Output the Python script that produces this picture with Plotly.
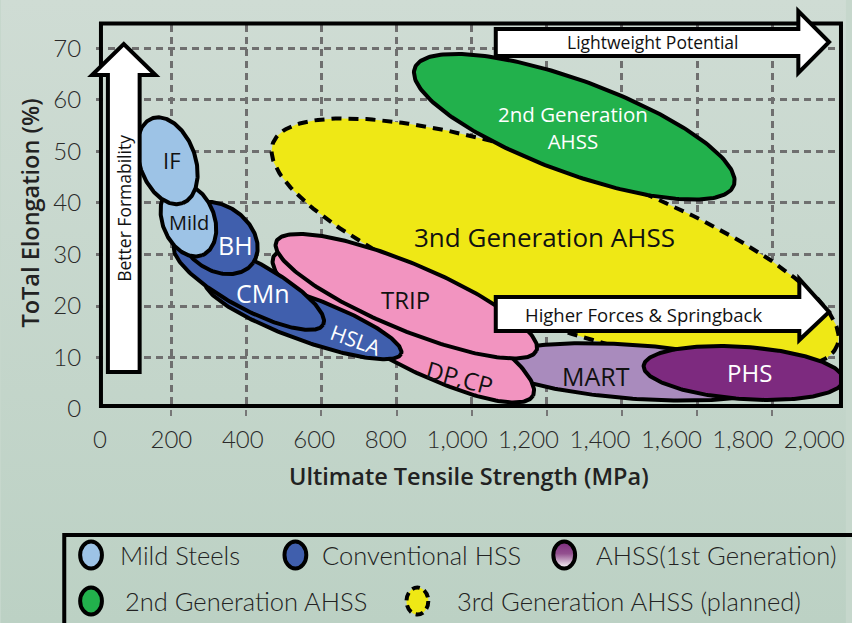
import base64
import numpy as np
import plotly.graph_objects as go

FIG_W, FIG_H = 852, 623
MARGIN = dict(l=96, r=7, t=25, b=214)
PLOT_W = FIG_W - MARGIN["l"] - MARGIN["r"]
PLOT_H = FIG_H - MARGIN["t"] - MARGIN["b"]

# Axis ranges: ultimate tensile strength (MPa) and total elongation (%)
UTS_RANGE = [0, 1977.6]
ELONG_RANGE = [0, 74.56]
UTS_LABEL_RANGE = [-11.1, 2069.4]

uts_grid = [200, 400, 600, 800, 1000, 1200, 1400, 1600, 1800]
uts_ticks = [0, 200, 400, 600, 800, 1000, 1200, 1400, 1600, 1800, 2000]
elong_grid = [10, 20, 30, 40, 50, 60, 70]
elong_ticks = [0, 10, 20, 30, 40, 50, 60, 70]

# Steel families, painted back to front
grade = ["3rd Gen AHSS", "2nd Gen AHSS", "MART", "PHS", "DP,CP", "TRIP",
         "HSLA", "CMn", "BH", "Mild", "IF"]
uts_center = [1222, 1273, 1436, 1724, 818, 826, 552, 407, 325, 246, 190]
elong_center = [32.0, 54.8, 7.2, 7.0, 16.1, 21.9, 17.7, 24.1, 33.2, 36.7, 48.2]
# semi-axes of each envelope, measured on the MPa scale
semi_major = [797, 452, 383, 267, 391, 375, 277, 224, 114, 100, 119]
semi_minor = [211, 122, 71, 69, 95, 87, 58, 63, 85, 69, 74]
tilt_deg = [19.5, 20, 4, 4, 28, 22.5, 20, 28, 35, 68, 70]

fill_color = ["#efe815", "#22b14c", "#a98bbd", "#7d2a7f", "#f294c0", "#f294c0",
              "#405fad", "#405fad", "#405fad", "#9dc3e6", "#9dc3e6"]
outline_dash = ["10px,7px"] + ["solid"] * 10

# in-envelope labels
label_text = ["3nd Generation AHSS", "2nd Generation<br>AHSS", "MART", "PHS", "DP,CP",
              "TRIP", "HSLA", "CMn", "BH", "Mild", "IF"]
label_uts = [1193, 1270, 1331, 1740, 970, 824, 692, 444, 372, 248, 201]
label_elong = [33.4, 54.6, 6.4, 7.0, 6.2, 21.2, 13.4, 22.5, 31.8, 36.3, 48.3]
label_color = ["#111", "white", "#111", "white", "#111", "#111", "white", "white",
               "white", "#111", "#111"]
label_size = [26, 20.5, 25, 24, 24, 24, 21, 25, 25, 20, 22]
label_angle = [0, 0, 0, 0, 15, 0, 20, 0, 0, 0, 0]

FONT = "Open Sans"
THIN = "Lato"

# MPa per percent elongation on screen, so tilted envelopes keep their shape
PX_PER_MPA = PLOT_W / (UTS_RANGE[1] - UTS_RANGE[0])
PX_PER_PCT = PLOT_H / (ELONG_RANGE[1] - ELONG_RANGE[0])
MPA_PER_PCT = PX_PER_PCT / PX_PER_MPA


def envelope(cu, ce, a, b, tilt, n=240):
    t = np.linspace(0, 2 * np.pi, n)
    th = np.radians(tilt)
    du = a * np.cos(t) * np.cos(th) - b * np.sin(t) * np.sin(th)
    dv = a * np.cos(t) * np.sin(th) + b * np.sin(t) * np.cos(th)
    return cu + du, ce - dv / MPA_PER_PCT


def px(x):
    return (x - MARGIN["l"]) / PLOT_W


def py(y):
    return (FIG_H - MARGIN["b"] - y) / PLOT_H


def svg_uri(svg):
    return "data:image/svg+xml;base64," + base64.b64encode(svg.encode()).decode()


def note(x, y, text, font, angle=0, xanchor="center"):
    fig.add_annotation(x=px(x), y=py(y), xref="paper", yref="paper", text=text,
                       showarrow=False, textangle=angle, xanchor=xanchor,
                       yanchor="middle", font=font)


fig = go.Figure()

for i in range(len(grade)):
    xs, ys = envelope(uts_center[i], elong_center[i], semi_major[i], semi_minor[i], tilt_deg[i])
    fig.add_trace(go.Scatter(
        x=xs, y=ys, mode="lines", fill="toself", fillcolor=fill_color[i],
        line=dict(color="black", width=4, dash=outline_dash[i]),
        name=grade[i], hoverinfo="skip", showlegend=False))

# carrier for the labelled tick axes
fig.add_trace(go.Scatter(x=[None], y=[None], xaxis="x2", yaxis="y2",
                         showlegend=False, hoverinfo="skip"))

for i in range(len(grade)):
    fig.add_annotation(
        x=label_uts[i], y=label_elong[i], xref="x", yref="y", text=label_text[i],
        showarrow=False, textangle=label_angle[i], xanchor="center", yanchor="middle",
        font=dict(family=FONT, size=label_size[i], color=label_color[i], weight=500))

grid = dict(showgrid=True, gridcolor="#6f6f6f", gridwidth=2.5, griddash="7px,5px",
            zeroline=False, showline=False, fixedrange=True)
tickfont = dict(family=THIN, size=24, color="#2a2a2a", weight=300)

fig.update_layout(
    width=FIG_W, height=FIG_H, margin=MARGIN,
    paper_bgcolor="#c6d7cc", plot_bgcolor="rgba(0,0,0,0)",
    xaxis=dict(range=UTS_RANGE, tickvals=uts_grid, showticklabels=False,
               ticks="outside", ticklen=6, tickwidth=2, tickcolor="#777", **grid),
    yaxis=dict(range=ELONG_RANGE, tickvals=elong_grid, showticklabels=False, ticks="", **grid),
    xaxis2=dict(overlaying="x", anchor="y", side="bottom", range=UTS_LABEL_RANGE,
                tickvals=uts_ticks, tickformat=",", showgrid=False, zeroline=False,
                ticks="outside", ticklen=9, tickcolor="rgba(0,0,0,0)",
                tickfont=tickfont, fixedrange=True),
    yaxis2=dict(overlaying="y", anchor="x", side="left", range=ELONG_RANGE,
                tickvals=elong_ticks, showgrid=False, zeroline=False,
                ticks="outside", ticklen=9, tickcolor="rgba(0,0,0,0)",
                tickfont=tickfont, fixedrange=True),
)

# background wash
bg = ('<svg xmlns="http://www.w3.org/2000/svg" width="852" height="623">'
      '<defs><linearGradient id="g" x1="0" y1="0" x2="0" y2="1">'
      '<stop offset="0" stop-color="#cfdcd4"/><stop offset="1" stop-color="#bcd1c4"/>'
      '</linearGradient></defs><rect width="852" height="623" fill="url(#g)"/></svg>')
images = [dict(source=svg_uri(bg), xref="paper", yref="paper", x=px(0), y=py(0),
               sizex=FIG_W / PLOT_W, sizey=FIG_H / PLOT_H, xanchor="left", yanchor="top",
               sizing="stretch", layer="below")]

# axis titles
title_font = dict(family=FONT, size=23.5, color="#222", weight=600)
note(472, 476, "Ultimate Tensile Strength (MPa)", title_font)
note(29, 213, "ToTal Elongation (%)", title_font, angle=-90)

shapes = []
# plot frame
shapes.append(dict(type="rect", xref="paper", yref="paper", x0=px(101), x1=px(847),
                   y0=py(406), y1=py(23.5), line=dict(color="black", width=4),
                   fillcolor="rgba(0,0,0,0)", layer="above"))


def arrow_path(points):
    return "M " + " L ".join(f"{px(x):.5f},{py(y):.5f}" for x, y in points) + " Z"


arrows = [
    [(108, 372), (108, 75), (92, 75), (124, 44), (156, 75), (140, 75), (140, 372)],
    [(499, 29), (804, 29), (804, 11), (835, 42), (804, 73), (804, 56), (499, 56)],
    [(499, 297), (805, 297), (805, 279), (835, 312), (805, 340), (805, 331), (499, 331)],
]
for pts in arrows:
    shapes.append(dict(type="path", xref="paper", yref="paper", path=arrow_path(pts),
                       fillcolor="white", line=dict(color="black", width=4), layer="above"))

arrow_font = dict(family=FONT, size=17.5, color="#111", weight=500)
note(124, 208, "Better Formability", arrow_font, angle=-90)
note(658, 42, "Lightweight Potential", arrow_font)
note(648, 314, "Higher Forces &amp; Springback", dict(arrow_font, size=18.5))

# legend panel
shapes.append(dict(type="rect", xref="paper", yref="paper", x0=px(64), x1=px(920),
                   y0=py(700), y1=py(535), line=dict(color="black", width=4),
                   fillcolor="rgba(0,0,0,0)", layer="above"))

legend_names = ["Mild Steels", "Conventional HSS", "AHSS(1st Generation)",
                "2nd Generation AHSS", "3rd Generation AHSS (planned)"]
legend_icon_xy = [(91, 555), (297, 555), (568, 555), (91, 601), (420, 601)]
legend_text_x = [118, 322, 598, 123, 458]
legend_fill = ["#9dc3e6", "#405fad", "grad", "#22b14c", "#efe815"]


def icon_svg(fill, dashed):
    defs = ""
    if fill == "grad":
        defs = ('<defs><linearGradient id="p" x1="0" y1="0" x2="0" y2="1">'
                '<stop offset="0" stop-color="#7d2a7f"/><stop offset="0.45" stop-color="#93508f"/>'
                '<stop offset="1" stop-color="#ffffff"/></linearGradient></defs>')
        fill = "url(#p)"
    dash = ' stroke-dasharray="8,5"' if dashed else ""
    return ('<svg xmlns="http://www.w3.org/2000/svg" width="30" height="34" viewBox="0 0 30 34">'
            f'{defs}<ellipse cx="15" cy="17" rx="11" ry="13.5" fill="{fill}" stroke="black" '
            f'stroke-width="4"{dash}/></svg>')


legend_font = dict(family=THIN, size=25.5, color="#222", weight=300)
for i, name in enumerate(legend_names):
    cx, cy = legend_icon_xy[i]
    images.append(dict(source=svg_uri(icon_svg(legend_fill[i], i == 4)),
                       xref="paper", yref="paper", x=px(cx), y=py(cy),
                       sizex=30 / PLOT_W, sizey=34 / PLOT_H, xanchor="center",
                       yanchor="middle", sizing="stretch", layer="above"))
    note(legend_text_x[i], cy, name, legend_font, xanchor="left")

fig.update_layout(shapes=shapes, images=images)

fig.write_html("out.html")
